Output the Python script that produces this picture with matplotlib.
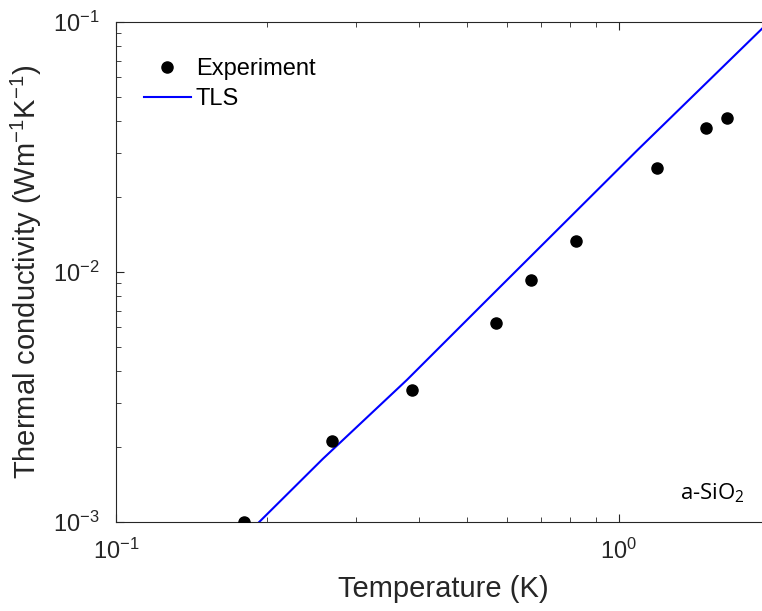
import numpy as np
import matplotlib
matplotlib.use('Agg')
import matplotlib.pyplot as plt

plt.rcParams['font.family'] = ['Liberation Sans', 'DejaVu Sans']
plt.rcParams['mathtext.default'] = 'regular'

exp_T = [0.180, 0.269, 0.388, 0.570, 0.668, 0.821, 1.19, 1.49, 1.64]
exp_k = [1.00e-3, 2.11e-3, 3.37e-3, 6.25e-3, 9.29e-3, 1.33e-2, 2.61e-2, 3.77e-2, 4.13e-2]

# TLS model curve
tls_T = [0.1927, 0.258, 0.379, 0.547, 1.091, 2.0]
tls_k = [1.00e-3, 1.79e-3, 3.70e-3, 7.73e-3, 3.08e-2, 1.01e-1]

fig = plt.figure(figsize=(7.62, 6.11), dpi=100)
# right edge of the box sits just past the picture edge, like the reference
ax = fig.add_axes([116/762, 89/611, 654/762, 500/611])

ax.plot(exp_T, exp_k, 'o', color='black', markersize=8, label='Experiment', zorder=3)
ax.plot(tls_T, tls_k, '-', color='#0000ff', linewidth=1.5, label='TLS')

ax.set_xscale('log')
ax.set_yscale('log')
ax.set_xlim(0.1, 2.0)
ax.set_ylim(1e-3, 1e-1)

ax.set_xlabel('Temperature (K)', fontsize=21, color='#262626', labelpad=8)
ax.set_ylabel(r'Thermal conductivity (Wm$^{-1}$K$^{-1}$)', fontsize=21, color='#262626', labelpad=6)

ax.tick_params(which='both', direction='in', top=True, right=True, colors='#262626',
               labelsize=17)
ax.tick_params(which='major', length=6, width=0.8, pad=12)
ax.tick_params(which='minor', length=3.5, width=0.6)
for s in ax.spines.values():
    s.set_color('#262626')
    s.set_linewidth(0.8)

ax.legend(loc='upper left', frameon=False, fontsize=17, handlelength=2.0,
          handletextpad=0.2, borderaxespad=0.0, labelspacing=0.35,
          bbox_to_anchor=(0.028, 0.947))

ax.text(0.962, 0.058, r'a-SiO$_2$', transform=ax.transAxes, fontsize=16,
        family=['Open Sans', 'DejaVu Sans'], ha='right', va='center', color='black')

fig.savefig('out.png', dpi=100)
